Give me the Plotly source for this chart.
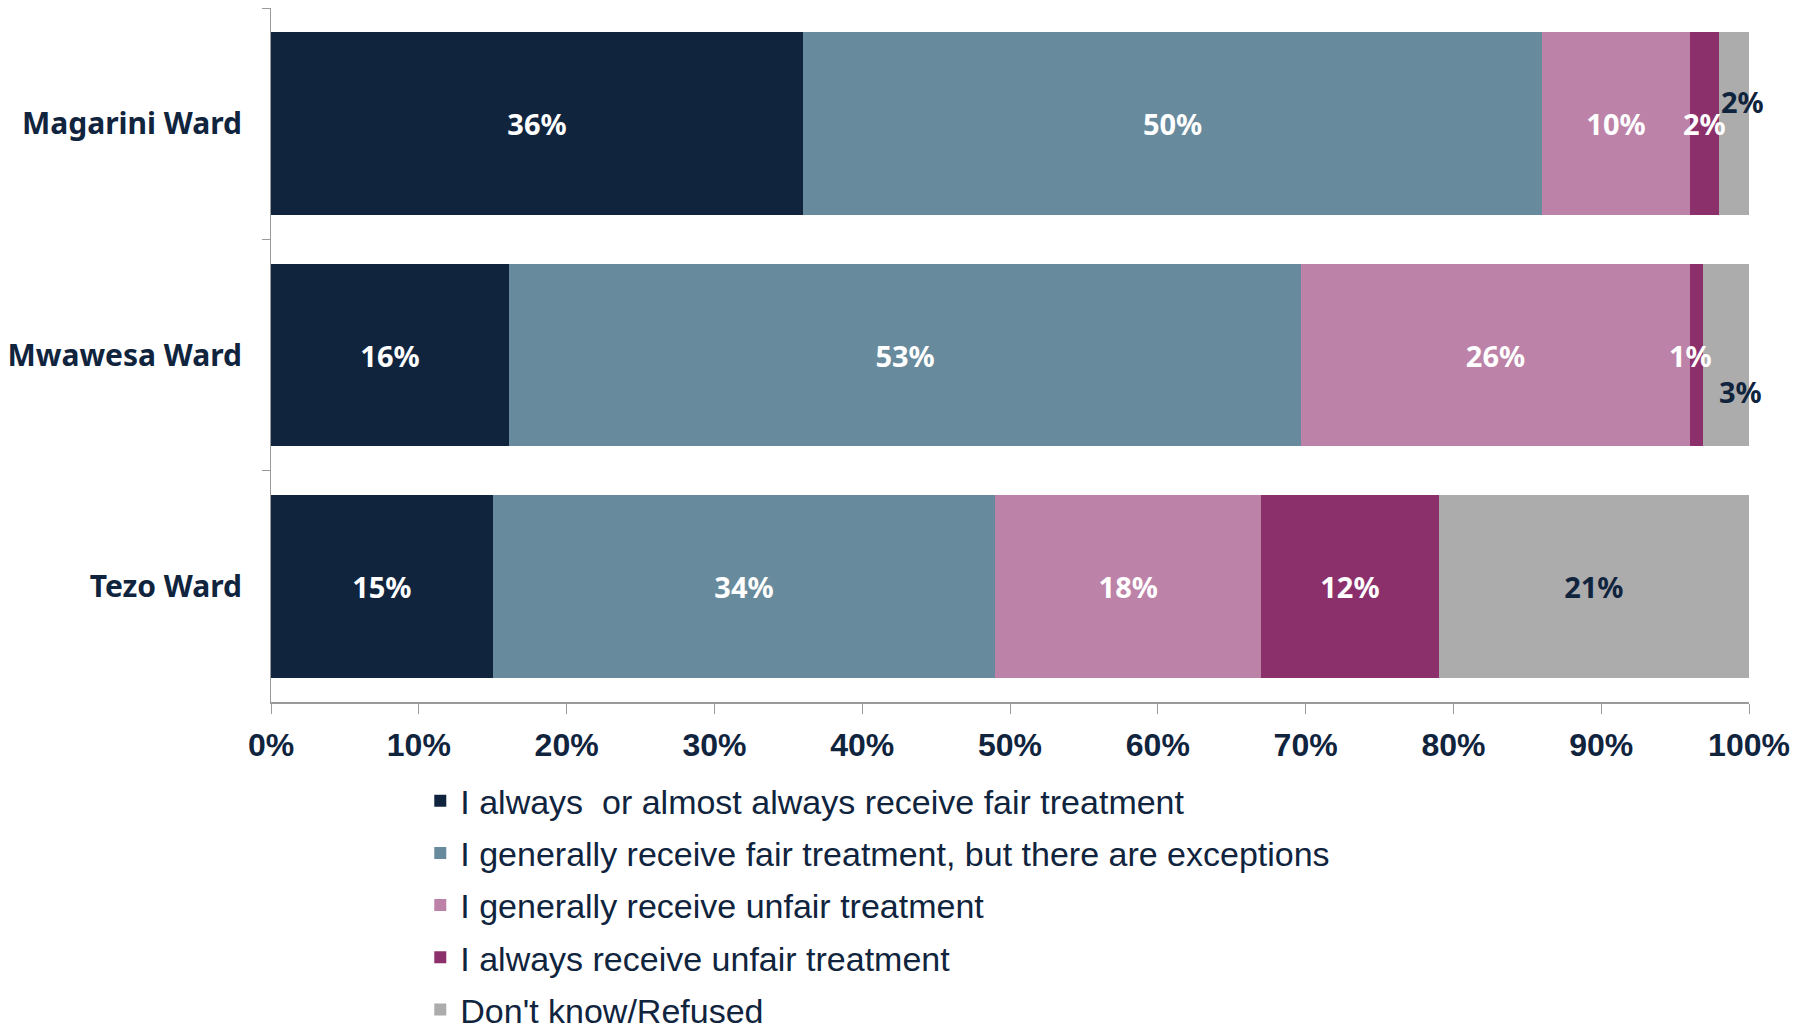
import plotly.graph_objects as go

wards = ["Magarini Ward", "Mwawesa Ward", "Tezo Ward"]
series_names = [
    "I always  or almost always receive fair treatment",
    "I generally receive fair treatment, but there are exceptions",
    "I generally receive unfair treatment",
    "I always receive unfair treatment",
    "Don't know/Refused",
]
always_fair = [36.0, 16.1, 15.0]
generally_fair = [50.0, 53.6, 34.0]
generally_unfair = [10.0, 26.3, 18.0]
always_unfair = [2.0, 0.9, 12.0]
dont_know = [2.0, 3.1, 21.0]

always_fair_lbl = ["36%", "16%", "15%"]
generally_fair_lbl = ["50%", "53%", "34%"]
generally_unfair_lbl = ["10%", "26%", "18%"]
always_unfair_lbl = ["2%", "1%", "12%"]
dont_know_lbl = ["2%", "3%", "21%"]

x_ticks = [0, 10, 20, 30, 40, 50, 60, 70, 80, 90, 100]
x_tick_labels = ["0%", "10%", "20%", "30%", "40%", "50%", "60%", "70%", "80%", "90%", "100%"]

colors = ["#10243e", "#688a9d", "#bc82a8", "#8c306c", "#acacad"]
text_colors = ["white", "white", "white", "white", "#10243e"]
NAVY = "#10243e"

values = [always_fair, generally_fair, generally_unfair, always_unfair, dont_know]
labels = [always_fair_lbl, generally_fair_lbl, generally_unfair_lbl, always_unfair_lbl, dont_know_lbl]

# small segments labelled via annotations instead of inside text
small = {(3, 0), (3, 1), (4, 0), (4, 1)}

fig = go.Figure()
for si, (name, vals, lbls) in enumerate(zip(series_names, values, labels)):
    txt = ["" if (si, i) in small else l for i, l in enumerate(lbls)]
    fig.add_trace(go.Bar(
        y=wards, x=vals, name=name, orientation="h",
        marker=dict(color=colors[si], line=dict(width=0)),
        text=txt, textposition="inside", insidetextanchor="middle",
        textangle=0,
        textfont=dict(family="Noto Sans", size=29, color=text_colors[si], weight="bold"),
        legendgroup=f"g{si}", hoverinfo="skip",
    ))

# annotations for tiny segments
ann_specs = {
    (3, 0): dict(color="white", xshift=0, yshift=0),
    (3, 1): dict(color="white", xshift=-6, yshift=0),
    (4, 0): dict(color=NAVY, xshift=8, yshift=22),
    (4, 1): dict(color=NAVY, xshift=14, yshift=-36),
}
for (si, i), spec in ann_specs.items():
    start = sum(values[k][i] for k in range(si))
    center = start + values[si][i] / 2
    fig.add_annotation(
        x=center, y=wards[i], xref="x", yref="y", text=labels[si][i],
        showarrow=False, xshift=spec["xshift"], yshift=spec["yshift"],
        font=dict(family="Noto Sans", size=29, color=spec["color"], weight="bold"),
    )

fig.update_layout(
    width=1804, height=1030,
    barmode="stack", bargap=0.21,
    plot_bgcolor="white", paper_bgcolor="white",
    margin=dict(l=271, r=55, t=8, b=328, autoexpand=False),
    legend=dict(
        x=0.101, y=-0.101, xanchor="left", yanchor="top",
        orientation="v", traceorder="grouped", tracegroupgap=5,
        font=dict(family="Liberation Sans", size=34, color=NAVY),
        itemwidth=30,
    ),
    showlegend=True,
)
fig.update_xaxes(
    range=[0, 100], tickvals=x_ticks, ticktext=x_tick_labels,
    showgrid=False, zeroline=False,
    showline=True, linecolor="#9a9a9a", linewidth=2,
    ticks="outside", ticklen=10, tickcolor="#9a9a9a",
    ticklabelstandoff=4,
    tickfont=dict(family="Liberation Sans", size=32, color=NAVY, weight="bold"),
)
fig.update_yaxes(
    categoryorder="array", categoryarray=wards, autorange="reversed",
    showgrid=False, zeroline=False,
    showline=True, linecolor="#9a9a9a", linewidth=1,
    ticks="outside", ticklen=8, tickcolor="#9a9a9a", tickson="boundaries",
    ticklabelstandoff=22,
    tickfont=dict(family="Noto Sans", size=30, color=NAVY, weight="bold"),
)

fig.write_html(
    "out.html", config={"displayModeBar": False},
    post_script="document.body.style.margin='0';document.body.style.overflow='hidden';",
)
